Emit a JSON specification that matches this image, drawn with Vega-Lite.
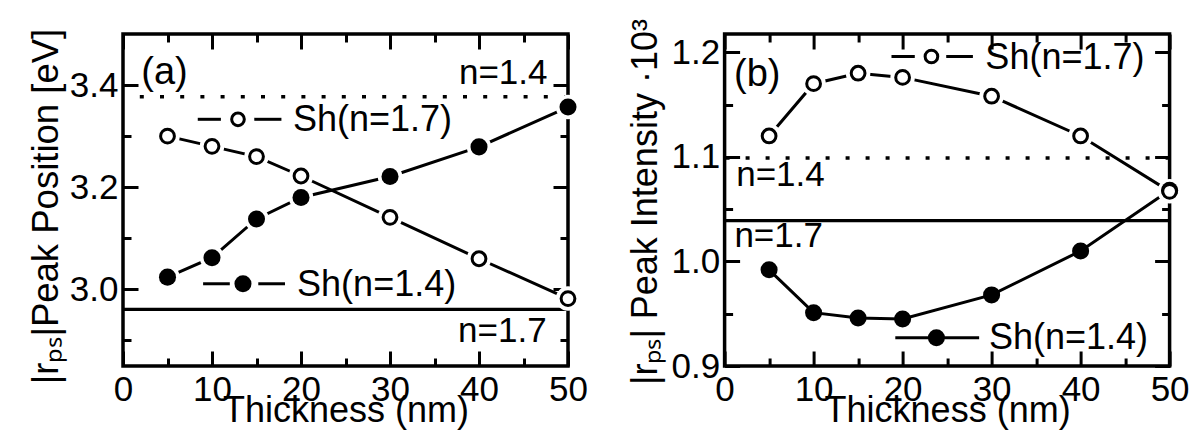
{
  "$schema": "https://vega.github.io/schema/vega-lite/v6.json",
  "background": "white",
  "padding": {"left": 26, "top": 16, "right": 10, "bottom": 5},
  "spacing": 156.6,
  "bounds": "flush",
  "config": {
    "font": "Liberation Sans",
    "view": {"stroke": "black", "strokeWidth": 3.5},
    "axis": {"domain": false, "grid": false, "tickColor": "black", "tickWidth": 3, "labelColor": "black", "titleColor": "black", "labelFont": "Liberation Sans", "titleFont": "Liberation Sans", "labelFontSize": 35, "titleFontSize": 36, "titleFontWeight": "normal", "labelFlush": false, "labelOverlap": false}
  },
  "datasets": {
    "a": [
      {"t": 5, "v": 3.30, "s": "Sh(n=1.7)"}, {"t": 10, "v": 3.28, "s": "Sh(n=1.7)"}, {"t": 15, "v": 3.26, "s": "Sh(n=1.7)"}, {"t": 20, "v": 3.222, "s": "Sh(n=1.7)"}, {"t": 30, "v": 3.141, "s": "Sh(n=1.7)"}, {"t": 40, "v": 3.06, "s": "Sh(n=1.7)"}, {"t": 50, "v": 2.982, "s": "Sh(n=1.7)"},
      {"t": 5, "v": 3.024, "s": "Sh(n=1.4)"}, {"t": 10, "v": 3.062, "s": "Sh(n=1.4)"}, {"t": 15, "v": 3.138, "s": "Sh(n=1.4)"}, {"t": 20, "v": 3.18, "s": "Sh(n=1.4)"}, {"t": 30, "v": 3.221, "s": "Sh(n=1.4)"}, {"t": 40, "v": 3.279, "s": "Sh(n=1.4)"}, {"t": 50, "v": 3.357, "s": "Sh(n=1.4)"}
    ],
    "b": [
      {"t": 5, "v": 1.12, "s": "Sh(n=1.7)"}, {"t": 10, "v": 1.170, "s": "Sh(n=1.7)"}, {"t": 15, "v": 1.180, "s": "Sh(n=1.7)"}, {"t": 20, "v": 1.176, "s": "Sh(n=1.7)"}, {"t": 30, "v": 1.158, "s": "Sh(n=1.7)"}, {"t": 40, "v": 1.12, "s": "Sh(n=1.7)"}, {"t": 50, "v": 1.067, "s": "Sh(n=1.7)"},
      {"t": 5, "v": 0.992, "s": "Sh(n=1.4)"}, {"t": 10, "v": 0.951, "s": "Sh(n=1.4)"}, {"t": 15, "v": 0.946, "s": "Sh(n=1.4)"}, {"t": 20, "v": 0.945, "s": "Sh(n=1.4)"}, {"t": 30, "v": 0.968, "s": "Sh(n=1.4)"}, {"t": 40, "v": 1.01, "s": "Sh(n=1.4)"}, {"t": 50, "v": 1.068, "s": "Sh(n=1.4)"}
    ],
    "refs": [
      {"panel": "a", "n": "n=1.4", "v": 3.377}, {"panel": "a", "n": "n=1.7", "v": 2.961},
      {"panel": "b", "n": "n=1.4", "v": 1.099}, {"panel": "b", "n": "n=1.7", "v": 1.039}
    ]
  },
  "hconcat": [
    {
      "width": 445, "height": 332,
      "resolve": {"axis": {"x": "independent", "y": "independent"}},
      "layer": [
        {"data": {"name": "refs"}, "transform": [{"filter": "datum.panel == 'a' && datum.n == 'n=1.4'"}],
         "mark": {"type": "rule", "color": "black", "strokeWidth": 3.5, "strokeDash": [4, 16.2]},
         "encoding": {"y": {"field": "v", "type": "quantitative", "axis": null}}},
        {"data": {"name": "refs"}, "transform": [{"filter": "datum.panel == 'a' && datum.n == 'n=1.7'"}],
         "mark": {"type": "rule", "color": "black", "strokeWidth": 3.2},
         "encoding": {"y": {"field": "v", "type": "quantitative", "axis": null}}},
        {"data": {"name": "a"}, "transform": [{"filter": "datum.s == 'Sh(n=1.7)'"}],
         "mark": {"type": "line", "color": "black", "strokeWidth": 3},
         "encoding": {
           "x": {"field": "t", "type": "quantitative", "scale": {"domain": [0, 50], "nice": false, "zero": false},
                 "axis": {"orient": "bottom", "values": [0, 10, 20, 30, 40, 50], "tickSize": -15, "labelPadding": 49.5, "labelBaseline": "alphabetic", "title": "Thickness (nm)", "titleX": 222.5, "titleY": 55.7, "titleAlign": "center", "titleBaseline": "alphabetic"}},
           "y": {"field": "v", "type": "quantitative", "scale": {"domain": [2.85, 3.5], "nice": false, "zero": false},
                 "axis": {"orient": "left", "values": [3.0, 3.2, 3.4], "format": ".1f", "tickSize": -15, "labelPadding": 20, "title": "|rₚₛ|Peak Position [eV]", "titleFontSize": 36.5, "titleX": -65.7, "titleY": 172, "titleAlign": "center", "titleBaseline": "alphabetic"}}
         }},
        {"data": {"name": "a"}, "transform": [{"filter": "datum.s == 'Sh(n=1.4)'"}],
         "mark": {"type": "line", "color": "black", "strokeWidth": 3},
         "encoding": {
           "x": {"field": "t", "type": "quantitative", "axis": {"orient": "top", "values": [0, 10, 20, 30, 40, 50], "tickSize": -15, "labels": false, "title": null}},
           "y": {"field": "v", "type": "quantitative", "axis": {"orient": "right", "values": [3.0, 3.2, 3.4], "tickSize": -15, "labels": false, "title": null}}
         }},
        {"data": {"name": "a"},
         "mark": {"type": "point", "shape": "circle", "filled": true, "color": "white", "size": 600, "opacity": 1},
         "encoding": {
           "x": {"field": "t", "type": "quantitative", "axis": {"orient": "bottom", "values": [5, 15, 25, 35, 45], "tickSize": -8, "labels": false, "title": null}},
           "y": {"field": "v", "type": "quantitative", "axis": {"orient": "left", "values": [2.9, 3.1, 3.3], "tickSize": -8, "labels": false, "title": null}}
         }},
        {"data": {"name": "a"}, "transform": [{"filter": "datum.s == 'Sh(n=1.4)'"}],
         "mark": {"type": "point", "shape": "circle", "filled": true, "color": "black", "size": 290, "opacity": 1},
         "encoding": {
           "x": {"field": "t", "type": "quantitative", "axis": null},
           "y": {"field": "v", "type": "quantitative", "axis": null}
         }},
        {"data": {"name": "a"}, "transform": [{"filter": "datum.s == 'Sh(n=1.7)'"}],
         "mark": {"type": "point", "shape": "circle", "filled": true, "fill": "white", "stroke": "black", "strokeWidth": 3, "size": 190, "opacity": 1},
         "encoding": {
           "x": {"field": "t", "type": "quantitative", "axis": {"orient": "top", "values": [5, 15, 25, 35, 45], "tickSize": -8, "labels": false, "title": null}},
           "y": {"field": "v", "type": "quantitative", "axis": {"orient": "right", "values": [2.9, 3.1, 3.3], "tickSize": -8, "labels": false, "title": null}}
         }},
        {"data": {"values": [{"label": "(a)"}]},
         "mark": {"type": "text", "align": "left", "baseline": "alphabetic", "fontSize": 38, "color": "black"},
         "encoding": {"text": {"field": "label"}, "x": {"datum": 2.06, "type": "quantitative", "axis": null}, "y": {"datum": 3.402, "type": "quantitative", "axis": null}}},
        {"data": {"values": [{"label": "n=1.4"}]},
         "mark": {"type": "text", "align": "right", "baseline": "alphabetic", "fontSize": 35, "color": "black"},
         "encoding": {"text": {"field": "label"}, "x": {"datum": 47.7, "type": "quantitative", "axis": null}, "y": {"datum": 3.402, "type": "quantitative", "axis": null}}},
        {"data": {"values": [{"label": "n=1.7"}]},
         "mark": {"type": "text", "align": "right", "baseline": "alphabetic", "fontSize": 35, "color": "black"},
         "encoding": {"text": {"field": "label"}, "x": {"datum": 47.6, "type": "quantitative", "axis": null}, "y": {"datum": 2.897, "type": "quantitative", "axis": null}}},
        {"data": {"values": [{"label": "Sh(n=1.7)"}]},
         "mark": {"type": "text", "align": "left", "baseline": "alphabetic", "fontSize": 36, "color": "black"},
         "encoding": {"text": {"field": "label"}, "x": {"datum": 19.1, "type": "quantitative", "axis": null}, "y": {"datum": 3.31, "type": "quantitative", "axis": null}}},
        {"data": {"values": [{"label": "Sh(n=1.4)"}]},
         "mark": {"type": "text", "align": "left", "baseline": "alphabetic", "fontSize": 36, "color": "black"},
         "encoding": {"text": {"field": "label"}, "x": {"datum": 19.56, "type": "quantitative", "axis": null}, "y": {"datum": 2.988, "type": "quantitative", "axis": null}}},
        {"data": {"values": [{}]},
         "mark": {"type": "rule", "color": "black", "strokeWidth": 3},
         "encoding": {"x": {"datum": 8.4, "type": "quantitative", "axis": null}, "x2": {"datum": 11.0}, "y": {"datum": 3.333, "type": "quantitative", "axis": null}}},
        {"data": {"values": [{}]},
         "mark": {"type": "rule", "color": "black", "strokeWidth": 3},
         "encoding": {"x": {"datum": 14.75, "type": "quantitative", "axis": null}, "x2": {"datum": 17.8}, "y": {"datum": 3.333, "type": "quantitative", "axis": null}}},
        {"data": {"values": [{}]},
         "mark": {"type": "rule", "color": "black", "strokeWidth": 3},
         "encoding": {"x": {"datum": 9.0, "type": "quantitative", "axis": null}, "x2": {"datum": 12.0}, "y": {"datum": 3.011, "type": "quantitative", "axis": null}}},
        {"data": {"values": [{}]},
         "mark": {"type": "rule", "color": "black", "strokeWidth": 3},
         "encoding": {"x": {"datum": 15.2, "type": "quantitative", "axis": null}, "x2": {"datum": 18.2}, "y": {"datum": 3.011, "type": "quantitative", "axis": null}}},
        {"data": {"values": [{"s": "Sh(n=1.7)"}]},
         "mark": {"type": "point", "shape": "circle", "filled": true, "fill": "white", "stroke": "black", "strokeWidth": 3, "size": 160, "opacity": 1},
         "encoding": {"x": {"datum": 12.92, "type": "quantitative", "axis": null}, "y": {"datum": 3.333, "type": "quantitative", "axis": null}}},
        {"data": {"values": [{"s": "Sh(n=1.4)"}]},
         "mark": {"type": "point", "shape": "circle", "filled": true, "color": "black", "size": 290, "opacity": 1},
         "encoding": {"x": {"datum": 13.48, "type": "quantitative", "axis": null}, "y": {"datum": 3.011, "type": "quantitative", "axis": null}}}
      ]
    },
    {
      "width": 445, "height": 332,
      "resolve": {"axis": {"x": "independent", "y": "independent"}},
      "layer": [
        {"data": {"name": "refs"}, "transform": [{"filter": "datum.panel == 'b' && datum.n == 'n=1.4'"}],
         "mark": {"type": "rule", "color": "black", "strokeWidth": 3.5, "strokeDash": [4, 16]},
         "encoding": {"y": {"field": "v", "type": "quantitative", "axis": null}}},
        {"data": {"name": "refs"}, "transform": [{"filter": "datum.panel == 'b' && datum.n == 'n=1.7'"}],
         "mark": {"type": "rule", "color": "black", "strokeWidth": 3.2},
         "encoding": {"y": {"field": "v", "type": "quantitative", "axis": null}}},
        {"data": {"name": "b"}, "transform": [{"filter": "datum.s == 'Sh(n=1.7)'"}],
         "mark": {"type": "line", "color": "black", "strokeWidth": 3},
         "encoding": {
           "x": {"field": "t", "type": "quantitative", "scale": {"domain": [0, 50], "nice": false, "zero": false},
                 "axis": {"orient": "bottom", "values": [0, 10, 20, 30, 40, 50], "tickSize": -15, "labelPadding": 49.5, "labelBaseline": "alphabetic", "title": "Thickness (nm)", "titleX": 222.5, "titleY": 55.7, "titleAlign": "center", "titleBaseline": "alphabetic"}},
           "y": {"field": "v", "type": "quantitative", "scale": {"domain": [0.9, 1.2175], "nice": false, "zero": false},
                 "axis": {"orient": "left", "values": [0.9, 1.0, 1.1, 1.2], "format": ".1f", "tickSize": -15, "labelPadding": 20, "title": "|rₚₛ| Peak Intensity ·10³", "titleX": -68.3, "titleY": 167.5, "titleAlign": "center", "titleBaseline": "alphabetic"}}
         }},
        {"data": {"name": "b"}, "transform": [{"filter": "datum.s == 'Sh(n=1.4)'"}],
         "mark": {"type": "line", "color": "black", "strokeWidth": 3},
         "encoding": {
           "x": {"field": "t", "type": "quantitative", "axis": {"orient": "top", "values": [0, 10, 20, 30, 40, 50], "tickSize": -15, "labels": false, "title": null}},
           "y": {"field": "v", "type": "quantitative", "axis": {"orient": "right", "values": [0.9, 1.0, 1.1, 1.2], "tickSize": -15, "labels": false, "title": null}}
         }},
        {"data": {"name": "b"}, "transform": [{"filter": "datum.s == 'Sh(n=1.7)'"}],
         "mark": {"type": "point", "shape": "circle", "filled": true, "color": "white", "size": 600, "opacity": 1},
         "encoding": {
           "x": {"field": "t", "type": "quantitative", "axis": {"orient": "bottom", "values": [5, 15, 25, 35, 45], "tickSize": -8, "labels": false, "title": null}},
           "y": {"field": "v", "type": "quantitative", "axis": {"orient": "left", "values": [0.95, 1.05, 1.15], "tickSize": -8, "labels": false, "title": null}}
         }},
        {"data": {"name": "b"}, "transform": [{"filter": "datum.s == 'Sh(n=1.4)'"}],
         "mark": {"type": "point", "shape": "circle", "filled": true, "color": "black", "size": 290, "opacity": 1},
         "encoding": {
           "x": {"field": "t", "type": "quantitative", "axis": null},
           "y": {"field": "v", "type": "quantitative", "axis": null}
         }},
        {"data": {"name": "b"}, "transform": [{"filter": "datum.s == 'Sh(n=1.7)'"}],
         "mark": {"type": "point", "shape": "circle", "filled": true, "fill": "white", "stroke": "black", "strokeWidth": 3, "size": 190, "opacity": 1},
         "encoding": {
           "x": {"field": "t", "type": "quantitative", "axis": {"orient": "top", "values": [5, 15, 25, 35, 45], "tickSize": -8, "labels": false, "title": null}},
           "y": {"field": "v", "type": "quantitative", "axis": {"orient": "right", "values": [0.95, 1.05, 1.15], "tickSize": -8, "labels": false, "title": null}}
         }},
        {"data": {"values": [{"label": "(b)"}]},
         "mark": {"type": "text", "align": "left", "baseline": "alphabetic", "fontSize": 38, "color": "black"},
         "encoding": {"text": {"field": "label"}, "x": {"datum": 1.06, "type": "quantitative", "axis": null}, "y": {"datum": 1.168, "type": "quantitative", "axis": null}}},
        {"data": {"values": [{"label": "n=1.4"}]},
         "mark": {"type": "text", "align": "left", "baseline": "alphabetic", "fontSize": 35, "color": "black"},
         "encoding": {"text": {"field": "label"}, "x": {"datum": 1.3, "type": "quantitative", "axis": null}, "y": {"datum": 1.0719, "type": "quantitative", "axis": null}}},
        {"data": {"values": [{"label": "n=1.7"}]},
         "mark": {"type": "text", "align": "left", "baseline": "alphabetic", "fontSize": 35, "color": "black"},
         "encoding": {"text": {"field": "label"}, "x": {"datum": 1.1, "type": "quantitative", "axis": null}, "y": {"datum": 1.0134, "type": "quantitative", "axis": null}}},
        {"data": {"values": [{"label": "Sh(n=1.7)"}]},
         "mark": {"type": "text", "align": "left", "baseline": "alphabetic", "fontSize": 36, "color": "black"},
         "encoding": {"text": {"field": "label"}, "x": {"datum": 29.3, "type": "quantitative", "axis": null}, "y": {"datum": 1.184, "type": "quantitative", "axis": null}}},
        {"data": {"values": [{"label": "Sh(n=1.4)"}]},
         "mark": {"type": "text", "align": "left", "baseline": "alphabetic", "fontSize": 36, "color": "black"},
         "encoding": {"text": {"field": "label"}, "x": {"datum": 29.7, "type": "quantitative", "axis": null}, "y": {"datum": 0.916, "type": "quantitative", "axis": null}}},
        {"data": {"values": [{}]},
         "mark": {"type": "rule", "color": "black", "strokeWidth": 3},
         "encoding": {"x": {"datum": 18.75, "type": "quantitative", "axis": null}, "x2": {"datum": 21.37}, "y": {"datum": 1.196, "type": "quantitative", "axis": null}}},
        {"data": {"values": [{}]},
         "mark": {"type": "rule", "color": "black", "strokeWidth": 3},
         "encoding": {"x": {"datum": 24.9, "type": "quantitative", "axis": null}, "x2": {"datum": 27.9}, "y": {"datum": 1.196, "type": "quantitative", "axis": null}}},
        {"data": {"values": [{}]},
         "mark": {"type": "rule", "color": "black", "strokeWidth": 3},
         "encoding": {"x": {"datum": 19.18, "type": "quantitative", "axis": null}, "x2": {"datum": 28.6}, "y": {"datum": 0.927, "type": "quantitative", "axis": null}}},
        {"data": {"values": [{"s": "Sh(n=1.7)"}]},
         "mark": {"type": "point", "shape": "circle", "filled": true, "fill": "white", "stroke": "black", "strokeWidth": 3, "size": 160, "opacity": 1},
         "encoding": {"x": {"datum": 23.24, "type": "quantitative", "axis": null}, "y": {"datum": 1.196, "type": "quantitative", "axis": null}}},
        {"data": {"values": [{"s": "Sh(n=1.4)"}]},
         "mark": {"type": "point", "shape": "circle", "filled": true, "color": "black", "size": 290, "opacity": 1},
         "encoding": {"x": {"datum": 23.8, "type": "quantitative", "axis": null}, "y": {"datum": 0.927, "type": "quantitative", "axis": null}}}
      ]
    }
  ]
}
